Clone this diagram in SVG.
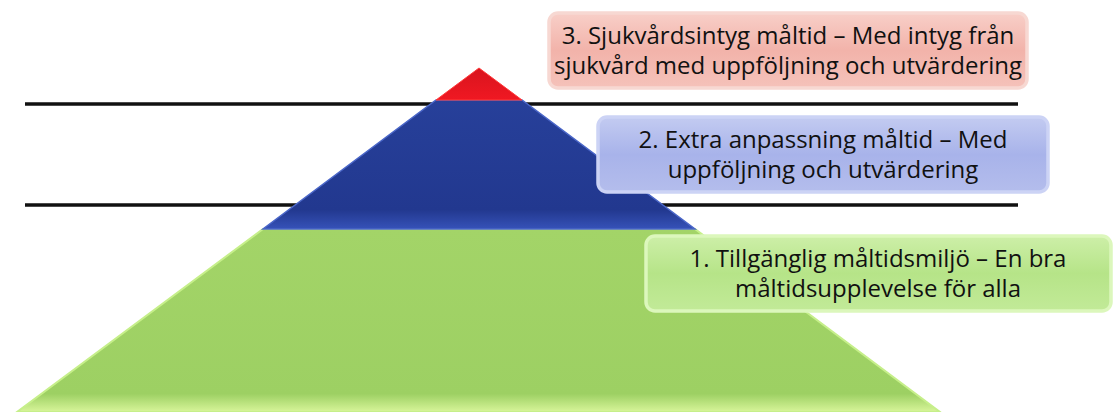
<svg xmlns="http://www.w3.org/2000/svg" width="1114" height="412" viewBox="0 0 1114 412">
<defs>
<linearGradient id="gGreen" x1="0" y1="0" x2="0" y2="1"><stop offset="0" stop-color="#a3d468"/><stop offset="0.9" stop-color="#9dd063"/><stop offset="1" stop-color="#d8f59a"/></linearGradient>
<linearGradient id="gBlue" x1="0" y1="0" x2="0" y2="1"><stop offset="0" stop-color="#27409a"/><stop offset="0.85" stop-color="#22388f"/><stop offset="1" stop-color="#3652b8"/></linearGradient>
<linearGradient id="gRed" x1="0" y1="0" x2="0" y2="1"><stop offset="0" stop-color="#d8141e"/><stop offset="1" stop-color="#f01822"/></linearGradient>
<linearGradient id="bRed" x1="0" y1="0" x2="0" y2="1"><stop offset="0" stop-color="#f8cfc8"/><stop offset="0.5" stop-color="#f2b3aa"/><stop offset="1" stop-color="#f5c2ba"/></linearGradient>
<linearGradient id="bBlue" x1="0" y1="0" x2="0" y2="1"><stop offset="0" stop-color="#c3cbf1"/><stop offset="0.5" stop-color="#a8b3ea"/><stop offset="1" stop-color="#b4bdec"/></linearGradient>
<linearGradient id="bGreen" x1="0" y1="0" x2="0" y2="1"><stop offset="0" stop-color="#cdefa8"/><stop offset="0.5" stop-color="#b6e488"/><stop offset="1" stop-color="#c2ea98"/></linearGradient>
</defs>
<style>
.line{stroke:#111;stroke-width:3.5}
.box text{font-family:"Open Sans","Noto Sans","DejaVu Sans",sans-serif;font-size:24px;fill:#111;text-anchor:middle}
</style>
<g id="lines">
<line class="line" x1="25" y1="104" x2="1018" y2="104"/>
<line class="line" x1="25" y1="205" x2="1018" y2="205"/>
</g>
<g id="pyramid">
<polygon id="level1" points="263,229 695,229 940,412 17,412" fill="url(#gGreen)" stroke="#c6ef8a" stroke-width="2"/>
<polygon id="level2" points="436,100 522,100 695,229 263,229" fill="url(#gBlue)" stroke="#4a66c8" stroke-width="1.5"/>
<polygon id="level3" points="479,68 522,100 436,100" fill="url(#gRed)" stroke="#ff3a3a" stroke-width="1"/>
</g>
<g id="box3" class="box">
<rect x="549" y="13" width="478" height="75" rx="9" fill="url(#bRed)" stroke="#f7d8d2" stroke-width="3.5"/>
<text x="788" y="44">3. Sjukvårdsintyg måltid – Med intyg från</text>
<text x="788" y="74">sjukvård med uppföljning och utvärdering</text>
</g>
<g id="box2" class="box">
<rect x="598" y="117" width="450" height="75" rx="9" fill="url(#bBlue)" stroke="#ccd3f5" stroke-width="3.5"/>
<text x="823" y="148">2. Extra anpassning måltid – Med</text>
<text x="823" y="178">uppföljning och utvärdering</text>
</g>
<g id="box1" class="box">
<rect x="646" y="236" width="465" height="75" rx="9" fill="url(#bGreen)" stroke="#dcf7bc" stroke-width="3.5"/>
<text x="878" y="267">1. Tillgänglig måltidsmiljö – En bra</text>
<text x="878" y="297">måltidsupplevelse för alla</text>
</g>
</svg>
